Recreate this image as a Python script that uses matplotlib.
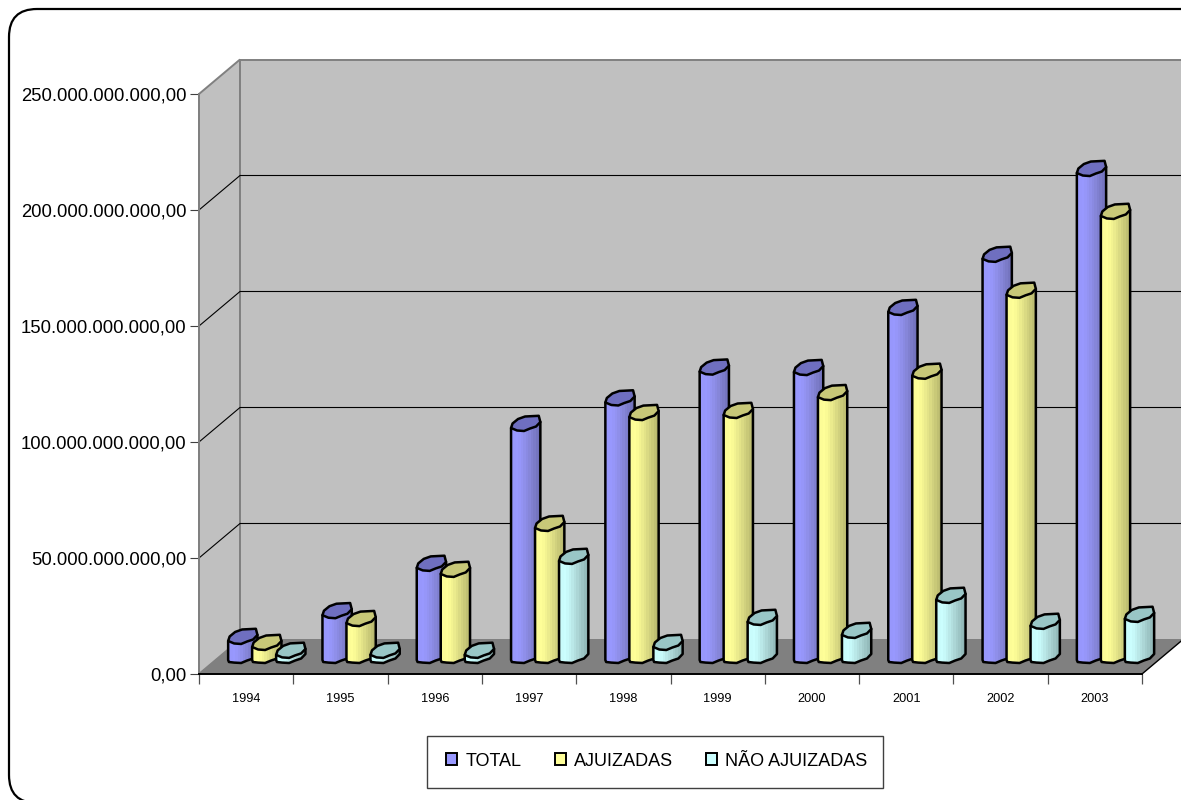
import numpy as np
import matplotlib
matplotlib.use("Agg")
import matplotlib.pyplot as plt
from matplotlib.colors import LinearSegmentedColormap
from matplotlib.patches import FancyBboxPatch, Patch, Polygon, Rectangle
from matplotlib.transforms import IdentityTransform

plt.rcParams['font.family'] = ['Liberation Sans', 'DejaVu Sans']

years = ["1994", "1995", "1996", "1997", "1998", "1999", "2000", "2001", "2002", "2003"]
total = [8.2e9, 19.3e9, 39.7e9, 100.0e9, 111.0e9, 124.3e9, 124.1e9, 150.0e9, 172.9e9, 209.9e9]
ajuizadas = [5.6e9, 15.9e9, 37.1e9, 56.9e9, 104.7e9, 105.6e9, 113.3e9, 122.5e9, 157.4e9, 191.4e9]
nao_ajuizadas = [2.2e9, 2.2e9, 2.2e9, 42.7e9, 5.6e9, 16.4e9, 10.8e9, 25.9e9, 14.7e9, 17.7e9]
y_ticks = [0, 50e9, 100e9, 150e9, 200e9, 250e9]
series_names = ["TOTAL", "AJUIZADAS", "NÃO AJUIZADAS"]

W, H = 1181, 800
fig = plt.figure(figsize=(W / 100, H / 100), dpi=100, facecolor="white")

# rounded outer frame runs off the right and bottom edges
fig.add_artist(FancyBboxPatch((31, 19), 1180, 750,
                              boxstyle="round,pad=22,rounding_size=28",
                              transform=IdentityTransform(),
                              fc="white", ec="black", lw=1.6, zorder=-1))

ax = fig.add_axes([199 / W, 1 - 674 / H, 943 / W, 580 / H])
ax.patch.set_visible(False)
ymax = y_ticks[-1]
ax.set_xlim(0, 10)
ax.set_ylim(0, ymax)

# one screen pixel in data units
px = 10 / 943
py = ymax / 580
depth_x = 41 * px
depth_y = 34.5 * py

GRAY = "#808080"
WALL = "#c0c0c0"

# box walls and floor
ax.add_patch(Polygon([(0, 0), (depth_x, depth_y), (depth_x, ymax + depth_y), (0, ymax)],
                     fc=WALL, ec=GRAY, lw=1.4, clip_on=False, zorder=0.5))
ax.add_patch(Polygon([(depth_x, depth_y), (10 + depth_x, depth_y),
                      (10 + depth_x, ymax + depth_y), (depth_x, ymax + depth_y)],
                     fc=WALL, ec=GRAY, lw=1.4, clip_on=False, zorder=0.5))
for v in y_ticks[1:-1]:
    ax.plot([0, depth_x, 10 + depth_x], [v, v + depth_y, v + depth_y],
            color="black", lw=0.8, clip_on=False, zorder=0.7)
ax.add_patch(Polygon([(0, 0), (10, 0), (10 + depth_x, depth_y), (depth_x, depth_y)],
                     fc=GRAY, ec="none", clip_on=False, zorder=0.8))
ax.plot([10, 10 + depth_x], [0, depth_y], color="black", lw=1.0, clip_on=False, zorder=0.9)

# cylinder outline in pixels, measured from the front left corner
cap_shape = np.array([(0, 0), (1.5, 4.5), (7, 9), (14, 11.5), (27.7, 12.2), (29.3, 6),
                      (25, 1.5), (19, -0.5), (13, -3), (6, -2.5)])
base_shape = np.array([(0, 0), (0.8, -2), (6, -2.6), (13, -3), (19, -0.5), (25, 1.5), (29.3, 6)])
bar_w = 29.3
base_lift = 14 * py

series_colors = [
    (["#9797fb", "#9999ff", "#9292f0", "#8888dd", "#7d7dca", "#7070b8"], "#6f6fc0"),
    (["#fbfb96", "#ffff99", "#f1f190", "#dede86", "#cbcb7a", "#b8b86e"], "#c8c878"),
    (["#c8fbfb", "#ccffff", "#bfeeee", "#afdada", "#9fc7c7", "#8eb4b4"], "#99c6c6"),
]
group_start = -18 * px
bar_step = 24 * px

order = 3
for i in range(len(years)):
    for j, values in enumerate([total, ajuizadas, nao_ajuizadas]):
        stops, cap_color = series_colors[j]
        x0 = i + 0.5 + group_start + j * bar_step
        top = values[i] + base_lift

        base_pts = [(x0 + a * px, base_lift + b * py) for a, b in base_shape]
        body = [(x0, top)] + base_pts + [(x0 + bar_w * px, top + 6 * py)]

        cmap = LinearSegmentedColormap.from_list("shade", stops)
        im = ax.imshow(np.linspace(0, 1, 12).reshape(1, -1), cmap=cmap, aspect="auto",
                       interpolation="nearest", zorder=order,
                       extent=(x0, x0 + bar_w * px, base_lift - 4 * py, top + 14 * py))
        # the last bars reach past the end of the x axis
        im.set_clip_box(fig.bbox)
        im.set_clip_path(Polygon(body, transform=ax.transData))
        ax.add_patch(Polygon(body, fc="none", ec="black", lw=1.8, joinstyle="round",
                             clip_on=False, zorder=order + 0.1))
        cap = [(x0 + a * px, top + b * py) for a, b in cap_shape]
        ax.add_patch(Polygon(cap, fc=cap_color, ec="black", lw=1.8, joinstyle="round",
                             clip_on=False, zorder=order + 0.2))
        order += 1

ax.set_xlim(0, 10)
ax.set_ylim(0, ymax)

# axes
for name in ["top", "right"]:
    ax.spines[name].set_visible(False)
ax.spines["left"].set_color(GRAY)
ax.spines["left"].set_linewidth(1.4)
ax.spines["bottom"].set_color("black")
ax.spines["bottom"].set_linewidth(1.4)

ax.set_yticks(y_ticks)
ax.set_yticklabels([f"{v:,.2f}".replace(",", "_").replace(".", ",").replace("_", ".") for v in y_ticks],
                   fontsize=13.3)
ax.tick_params(axis="y", length=6.5, width=0.8, color="#404040", pad=2.5)
ax.set_xticks(np.arange(len(years) + 1))
ax.set_xticklabels([])
ax.tick_params(axis="x", which="major", length=7, width=0.9, color="#505050")
ax.set_xticks(np.arange(len(years)) + 0.5, labels=years, minor=True, fontsize=9.2)
ax.tick_params(axis="x", which="minor", length=0, pad=13.5)

# legend box is taller than the entries need, so it is drawn apart from them
fig.add_artist(Rectangle((427 / W, 1 - 788 / H), 456 / W, 52 / H, transform=fig.transFigure,
                         fc="white", ec="#404040", lw=1.0))
handles = [Patch(fc=c, ec="black", lw=1.4) for c in ["#9999ff", "#ffff99", "#ccffff"]]
fig.legend(handles, series_names, ncol=3, frameon=False, fontsize=13,
           loc="center", bbox_to_anchor=(657 / W, 1 - 761 / H),
           handlelength=0.6, handleheight=0.65, handletextpad=0.45, columnspacing=1.85)

fig.savefig("out.png", dpi=100)
